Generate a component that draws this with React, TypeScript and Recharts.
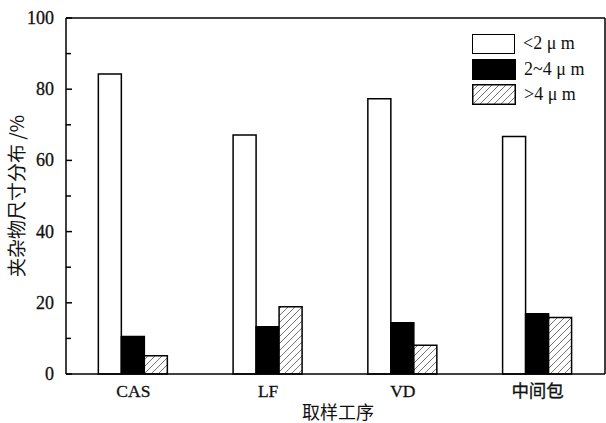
import { Bar, BarChart, Legend, XAxis, YAxis, ReferenceLine, Label } from "recharts";

const processes = ["CAS", "LF", "VD", "中间包"];
const small = [84.3, 67.1, 77.3, 66.7];
const medium = [10.5, 13.3, 14.4, 16.9];
const large = [5.1, 18.9, 8.1, 15.9];
const yTicks = [0, 10, 20, 30, 40, 50, 60, 70, 80, 90, 100];

const data = processes.map((name, i) => ({
  name,
  small: small[i],
  medium: medium[i],
  large: large[i],
}));

const serif = "'Liberation Serif', 'Times New Roman', 'Noto Sans CJK SC', serif";
const cjk = "'Noto Sans CJK SC', sans-serif";

const YTick = (props: any) => {
  const { y, payload } = props;
  const major = payload.value % 20 === 0;
  return (
    <g>
      <line x1={66} x2={major ? 72 : 71} y1={y} y2={y} stroke="#000" strokeWidth={1.5} />
      {major && (
        <text
          x={54}
          y={y}
          dy={6}
          textAnchor="end"
          fontFamily={serif}
          fontSize={18}
          fill="#111"
          stroke="#111"
          strokeWidth={0.3}
        >
          {payload.value}
        </text>
      )}
    </g>
  );
};

const XTick = (props: any) => {
  const { x, payload } = props;
  return (
    <text
      x={x}
      y={397}
      textAnchor="middle"
      fontFamily={serif}
      fontSize={17.5}
      fill="#111"
      stroke="#111"
      strokeWidth={0.3}
    >
      {payload.value}
    </text>
  );
};

const HatchBox = () => (
  <svg width={44} height={21} style={{ display: "block" }}>
    <rect x={0.75} y={0.75} width={42.5} height={19.5} fill="url(#hatch)" stroke="#000" strokeWidth={1.5} />
  </svg>
);

const legendRows = [
  { label: "<2 μ m", box: <div style={{ width: 41, height: 18, border: "1.5px solid #000", background: "#fff" }} /> },
  { label: "2~4 μ m", box: <div style={{ width: 44, height: 21, background: "#000" }} /> },
  { label: ">4 μ m", box: <HatchBox /> },
];

const LegendContent = () => (
  <div style={{ fontFamily: serif, fontSize: 18, color: "#111" }}>
    {legendRows.map((r) => (
      <div key={r.label} style={{ display: "flex", alignItems: "center", height: 25.5 }}>
        {r.box}
        <span style={{ marginLeft: 8 }}>{r.label}</span>
      </div>
    ))}
  </div>
);

export default function App() {
  return (
    <div style={{ position: "absolute", left: 0, top: 0, background: "#fff" }}>
      <BarChart
        width={606}
        height={423}
        data={data}
        margin={{ top: 18, right: 0, left: 0, bottom: 0 }}
        barCategoryGap="24%"
        barGap={0}
      >
        <defs>
          <pattern id="hatch" patternUnits="userSpaceOnUse" width={7} height={7}>
            <rect width={7} height={7} fill="#fff" />
            <path d="M-1,1 l2,-2 M0,7 l7,-7 M6,8 l2,-2" stroke="#666" strokeWidth={0.9} />
          </pattern>
        </defs>
        <XAxis
          dataKey="name"
          height={49}
          tickLine={false}
          axisLine={{ stroke: "#000", strokeWidth: 1.5 }}
          tick={<XTick />}
          interval={0}
        >
          <Label
            content={() => (
              <text x={338} y={419} textAnchor="middle" fontFamily={cjk} fontSize={18} fill="#111">
                取样工序
              </text>
            )}
          />
        </XAxis>
        <YAxis
          width={66}
          domain={[0, 100]}
          ticks={yTicks}
          interval={0}
          tickLine={false}
          axisLine={{ stroke: "#000", strokeWidth: 1.5 }}
          tick={<YTick />}
        >
          <Label
            content={() => (
              <text
                x={24}
                y={196}
                transform="rotate(-90 24 196)"
                textAnchor="middle"
                fontFamily={cjk}
                fontSize={19}
                fill="#111"
              >
                夹杂物尺寸分布 /%
              </text>
            )}
          />
        </YAxis>
        <YAxis
          yAxisId="right"
          orientation="right"
          width={1}
          domain={[0, 100]}
          tick={false}
          tickLine={false}
          axisLine={{ stroke: "#000", strokeWidth: 1.5 }}
        />
        <ReferenceLine y={100} stroke="#000" strokeWidth={1.5} />
        <Legend
          layout="vertical"
          verticalAlign="middle"
          align="center"
          content={<LegendContent />}
          wrapperStyle={{ left: 472, top: 31, width: 130 }}
        />
        <Bar dataKey="small" fill="#fff" stroke="#000" strokeWidth={1.5} isAnimationActive={false} />
        <Bar dataKey="medium" fill="#000" stroke="#000" strokeWidth={1.5} isAnimationActive={false} />
        <Bar dataKey="large" fill="url(#hatch)" stroke="#000" strokeWidth={1.5} isAnimationActive={false} />
      </BarChart>
    </div>
  );
}
